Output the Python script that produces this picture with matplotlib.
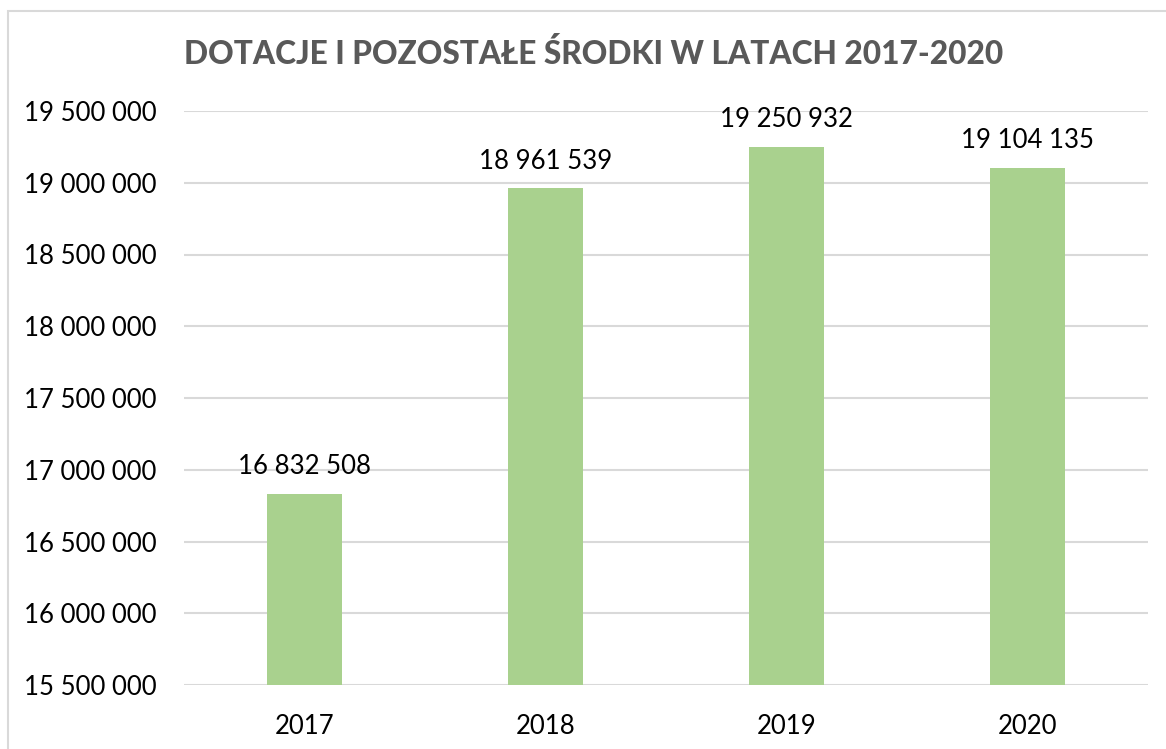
import matplotlib.pyplot as plt
from matplotlib.patches import Rectangle

# Data
years = ['2017', '2018', '2019', '2020']
values = [16832508, 18961539, 19250932, 19104135]
yticks = [15500000, 16000000, 16500000, 17000000, 17500000,
          18000000, 18500000, 19000000, 19500000]

plt.rcParams['font.family'] = ['Lato', 'DejaVu Sans']

def fmt(v):
    return f"{v:,}".replace(',', ' ')

fig = plt.figure(figsize=(11.66, 7.49), dpi=100)
ax = fig.add_axes([184 / 1166, 1 - 685 / 749, (1148 - 184) / 1166, (685 - 111) / 749])

# outer chart border
fig.patches.append(Rectangle((8 / 1166, -0.1), 1.2, 1 - 11 / 749 + 0.1,
                             transform=fig.transFigure, fill=False,
                             edgecolor='#D9D9D9', linewidth=1.5))

x = range(len(years))
bars = ax.bar(x, values, width=0.315, color='#A9D18E', zorder=3)
for b, v in zip(bars, values):
    ax.text(b.get_x() + b.get_width() / 2, v + 100000, fmt(v),
            ha='center', va='bottom', fontsize=18.5, color='black')

ax.set_ylim(15500000, 19500000)
ax.set_xlim(-0.5, 3.5)
ax.set_yticks(yticks)
ax.set_yticklabels([fmt(t) for t in yticks], fontsize=18.5)
ax.set_xticks(list(x))
ax.set_xticklabels(years, fontsize=18.5)
ax.yaxis.grid(True, color='#D9D9D9', linewidth=1.5, zorder=0)
ax.tick_params(length=0)
ax.tick_params(axis='y', pad=20)
ax.tick_params(axis='x', pad=21)
for s in ax.spines.values():
    s.set_visible(False)

fig.text(0.509, 1 - 54 / 749, 'DOTACJE I POZOSTAŁE ŚRODKI W LATACH 2017-2020',
         ha='center', va='center', fontsize=22.8, fontweight='black', color='#595959')

fig.savefig('out.png', dpi=100)
